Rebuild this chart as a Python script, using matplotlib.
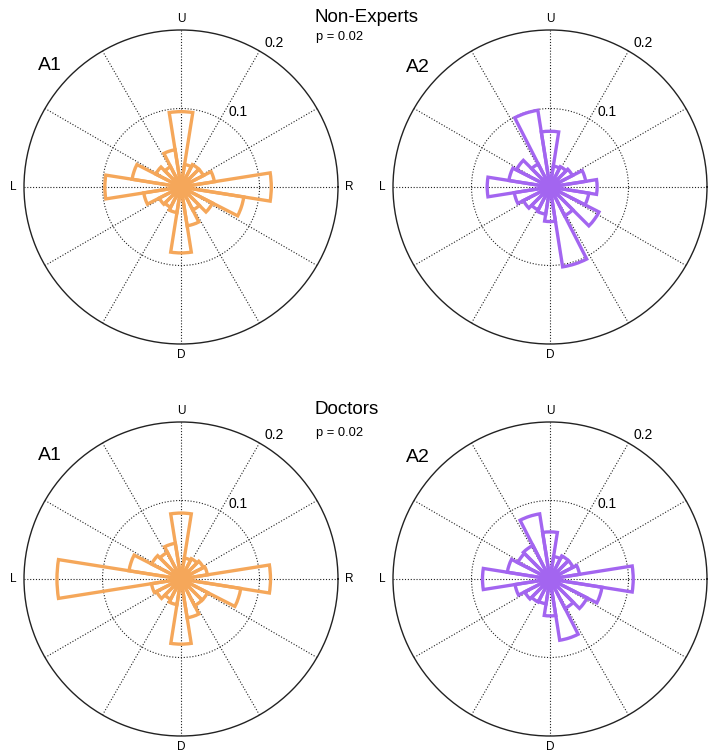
import numpy as np
import matplotlib.pyplot as plt

plt.rcParams['font.family'] = ['Liberation Sans', 'DejaVu Sans']

# bin centres in degrees (20 bins of 18 deg)
bin_deg = np.arange(0, 360, 18)

# relative frequency per bin
nonexp_a1 = [0.115, 0.043, 0.032, 0.032, 0.029, 0.096, 0.048, 0.029, 0.036, 0.063,
             0.097, 0.048, 0.031, 0.029, 0.033, 0.084, 0.050, 0.033, 0.045, 0.081]
nonexp_a2 = [0.060, 0.046, 0.032, 0.029, 0.027, 0.071, 0.099, 0.033, 0.048, 0.053,
             0.080, 0.046, 0.038, 0.033, 0.035, 0.044, 0.103, 0.041, 0.070, 0.050]
doctor_a1 = [0.114, 0.034, 0.032, 0.029, 0.027, 0.084, 0.046, 0.038, 0.042, 0.067,
             0.158, 0.038, 0.035, 0.029, 0.033, 0.083, 0.050, 0.038, 0.038, 0.077]
doctor_a2 = [0.106, 0.038, 0.033, 0.033, 0.029, 0.060, 0.084, 0.048, 0.046, 0.055,
             0.086, 0.045, 0.036, 0.033, 0.032, 0.047, 0.079, 0.042, 0.053, 0.067]

groups = ['Non-Experts', 'Doctors']
p_vals = ['p = 0.02', 'p = 0.02']
panel_names = ['A1', 'A2']
orange = '#F5A75A'
purple = '#A365F0'

W, H = 715, 756
R_PX = 157
centers = [[(181, 187), (550, 187)], [(181, 579), (550, 579)]]
title_y = [17, 410]
p_y = [37, 433]
name_y = [66, 456]
data = [[nonexp_a1, nonexp_a2], [doctor_a1, doctor_a2]]
colors = [orange, purple]

fig = plt.figure(figsize=(W / 100, H / 100), dpi=100)

theta = np.deg2rad(bin_deg)
width = np.deg2rad(18)

for row in range(2):
    for col in range(2):
        cx, cy = centers[row][col]
        ax = fig.add_axes([(cx - R_PX) / W, (H - cy - R_PX) / H, 2 * R_PX / W, 2 * R_PX / H],
                          projection='polar')
        ax.bar(theta, data[row][col], width=width, bottom=0, facecolor='none',
               edgecolor=colors[col], linewidth=2.4, zorder=3)
        ax.set_ylim(0, 0.2)
        ax.set_rticks([0.1])
        ax.set_yticklabels([])
        ax.set_thetagrids(np.arange(0, 360, 30),
                          ['R', '', '', 'U', '', '', 'L', '', '', 'D', '', ''])
        ax.tick_params(axis='x', pad=-2.5, labelsize=8.5)
        ax.grid(True, color='#222222', linestyle=(0, (1, 1.6)), linewidth=0.8)
        ax.spines['polar'].set_color('#222222')
        ax.spines['polar'].set_linewidth(1.0)
        ax.text(np.deg2rad(53), 0.12, '0.1', fontsize=10, ha='center', va='center')
        ax.text(np.deg2rad(57), 0.219, '0.2', fontsize=10, ha='center', va='center')

    fig.text(315 / W, 1 - title_y[row] / H, groups[row], fontsize=13.5,
             ha='left', va='center')
    fig.text(316 / W, 1 - p_y[row] / H, p_vals[row], fontsize=9.3,
             ha='left', va='center')
    fig.text(50 / W, 1 - name_y[row] / H, panel_names[0], fontsize=14,
             ha='center', va='center')
    fig.text(418 / W, 1 - (name_y[row] + 1) / H, panel_names[1], fontsize=14,
             ha='center', va='center')

fig.savefig('out.png', dpi=100)
